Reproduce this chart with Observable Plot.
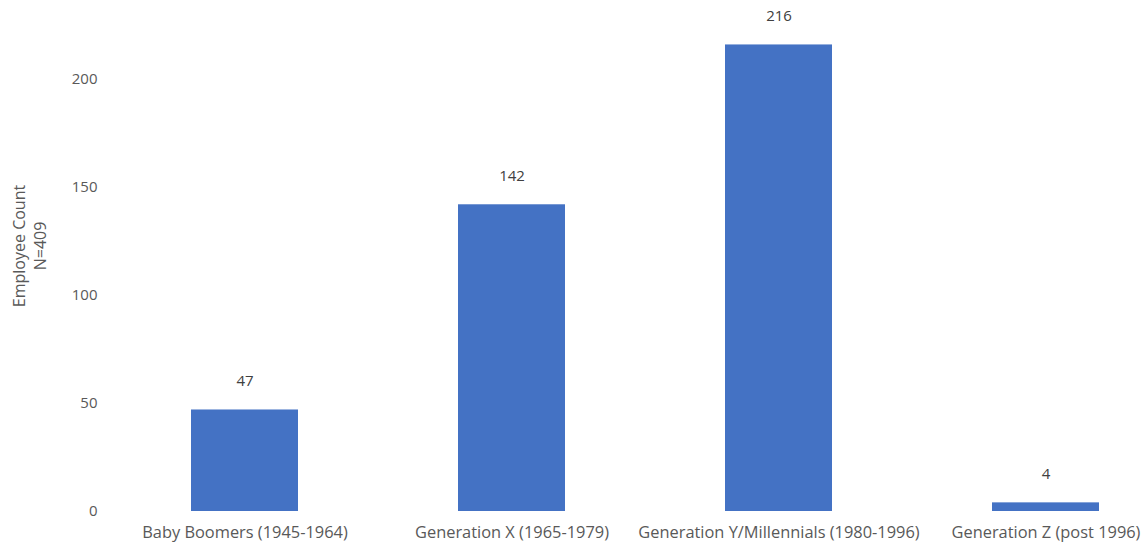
<!DOCTYPE html>
<html>
<head>
<meta charset="utf-8">
<script src="https://cdn.jsdelivr.net/npm/d3@7"></script>
<script src="https://cdn.jsdelivr.net/npm/@observablehq/plot@0.6"></script>
<style>
  html, body { margin: 0; padding: 0; background: #fff; }
  #chart svg { display: block; }
</style>
</head>
<body>
<div id="chart"></div>
<script>
const categories = ["Baby Boomers (1945-1964)", "Generation X (1965-1979)", "Generation Y/Millennials (1980-1996)", "Generation Z (post 1996)"];
const counts = [47, 142, 216, 4];
const yTicks = [0, 50, 100, 150, 200];
const yLabel = "Employee Count\nN=409";

const data = categories.map((c, i) => ({category: c, count: counts[i]}));
const font = "'Open Sans', Lato, sans-serif";

const chart = Plot.plot({
  width: 1143,
  height: 542,
  marginLeft: 105,
  marginRight: 0,
  marginTop: 0,
  marginBottom: 31,
  style: {fontFamily: font, fontSize: "15px", background: "#fff"},
  x: {domain: categories, range: [110.4, 1179.6], paddingInner: 0.6, paddingOuter: 0.3, label: null},
  y: {domain: [0, 200], range: [511, 79], label: null},
  marks: [
    Plot.barY(data, {x: "category", y: "count", fill: "#4472C4"}),
    Plot.text(data, {x: "category", y: "count", text: d => String(d.count), dy: -29, fill: "#404040", fontSize: 15}),
    Plot.axisY({ticks: yTicks, tickSize: 0, tickPadding: 8, label: null, fill: "#595959", fontSize: 15}),
    Plot.axisX({tickSize: 0, tickPadding: 15, label: null, fill: "#595959", fontSize: 16.4}),
    Plot.text([yLabel], {frameAnchor: "left", textAnchor: "middle", text: d => d, rotate: -90, dx: -77, dy: -10, lineHeight: 1.3, fill: "#595959", fontSize: 16})
  ]
});
document.getElementById("chart").appendChild(chart);
</script>
</body>
</html>
